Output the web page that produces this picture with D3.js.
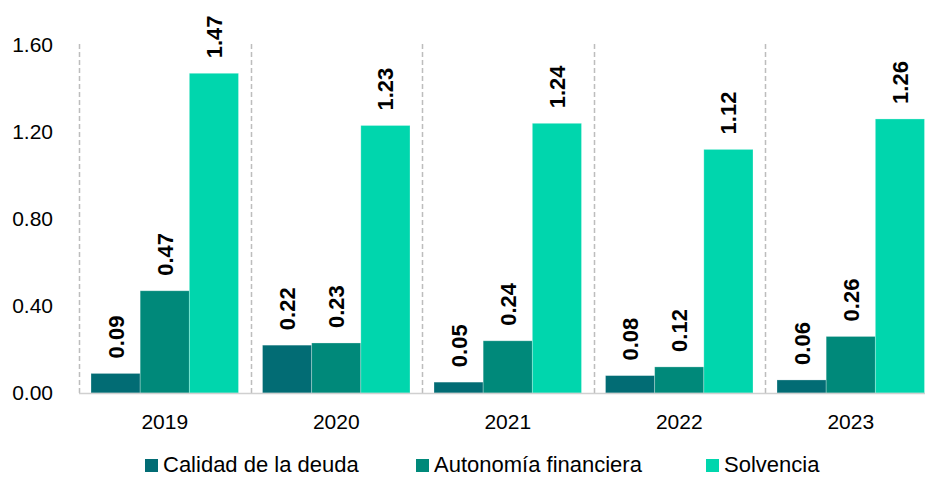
<!DOCTYPE html>
<html>
<head>
<meta charset="utf-8">
<script src="https://cdn.jsdelivr.net/npm/d3@7"></script>
<style>
  html, body { margin: 0; padding: 0; background: #fff; }
  svg { display: block; font-family: Arial, "Liberation Sans", sans-serif; }
</style>
</head>
<body>
<svg id="chart" width="925" height="477"></svg>
<script>
// Ratios per year
const years = ["2019", "2020", "2021", "2022", "2023"];
const seriesNames = ["Calidad de la deuda", "Autonomía financiera", "Solvencia"];
const calidad = [0.09, 0.22, 0.05, 0.08, 0.06];
const autonomia = [0.47, 0.23, 0.24, 0.12, 0.26];
const solvencia = [1.47, 1.23, 1.24, 1.12, 1.26];
const yTicks = [0, 0.4, 0.8, 1.2, 1.6];
const colors = ["#026c74", "#00897a", "#00d6ad"];

const seriesValues = [calidad, autonomia, solvencia];
const rows = years.map((yr, i) => ({
  year: yr,
  values: seriesNames.map((s, k) => ({ key: s, idx: k, value: seriesValues[k][i] }))
}));

const svg = d3.select("#chart");
const plotLeft = 79, plotRight = 936.5, plotTop = 45, plotBottom = 393;

const x0 = d3.scaleBand().domain(years).range([plotLeft, plotRight]).padding(0);
const x1 = d3.scaleBand().domain(seriesNames)
  .range([12, x0.bandwidth() - 12]).padding(0);
const y = d3.scaleLinear().domain([0, 1.6]).range([plotBottom, plotTop]);

// Dashed separators between year groups
svg.append("g")
  .selectAll("line")
  .data(years)
  .join("line")
  .attr("x1", d => Math.round(x0(d)) + 0.5)
  .attr("x2", d => Math.round(x0(d)) + 0.5)
  .attr("y1", plotTop - 1)
  .attr("y2", plotBottom)
  .attr("stroke", "#bdbdbd")
  .attr("stroke-width", 1.5)
  .attr("stroke-dasharray", "5,3");

// Y axis labels
const yAxis = d3.axisLeft(y).tickValues(yTicks).tickFormat(d3.format(".2f")).tickSize(0).tickPadding(0);
const gy = svg.append("g").attr("transform", `translate(53,0)`).call(yAxis);
gy.select(".domain").remove();
gy.selectAll("text")
  .attr("font-size", 21)
  .attr("font-family", "Arial, 'Liberation Sans', sans-serif")
  .attr("fill", "#000");

// Bars
const groups = svg.append("g")
  .selectAll("g")
  .data(rows)
  .join("g")
  .attr("transform", d => `translate(${x0(d.year)},0)`);

groups.selectAll("rect")
  .data(d => d.values)
  .join("rect")
  .attr("x", d => x1(d.key))
  .attr("width", x1.bandwidth())
  .attr("y", d => y(d.value))
  .attr("height", d => y(0) - y(d.value))
  .attr("fill", d => colors[d.idx])
  .attr("stroke", "#ffffff")
  .attr("stroke-opacity", 0.35)
  .attr("stroke-width", 0.8);

// Value labels, rotated above each bar
groups.selectAll("text.val")
  .data(d => d.values)
  .join("text")
  .attr("class", "val")
  .attr("transform", d => `translate(${x1(d.key) + x1.bandwidth() / 2 + 8},${y(d.value) - 15}) rotate(-90)`)
  .attr("text-anchor", "start")
  .attr("font-size", 22)
  .attr("font-weight", "bold")
  .attr("fill", "#000")
  .text(d => d3.format(".2f")(d.value));

// Baseline
svg.append("line")
  .attr("x1", plotLeft).attr("x2", 925)
  .attr("y1", y(0) + 0.5).attr("y2", y(0) + 0.5)
  .attr("stroke", "#d0d0d0")
  .attr("stroke-width", 1.5);

// Year labels
const xAxis = d3.axisBottom(x0).tickSize(0).tickPadding(0);
const gx = svg.append("g").attr("transform", `translate(0,${plotBottom + 29})`).call(xAxis);
gx.select(".domain").remove();
gx.selectAll("text")
  .attr("font-size", 21)
  .attr("font-family", "Arial, 'Liberation Sans', sans-serif")
  .attr("fill", "#000")
  .attr("dy", "0.35em");

// Legend
const legendX = [145, 416, 706];
const legend = svg.append("g")
  .selectAll("g")
  .data(seriesNames)
  .join("g")
  .attr("transform", (d, i) => `translate(${legendX[i]},472)`);
legend.append("rect")
  .attr("x", 0).attr("y", -13)
  .attr("width", 13).attr("height", 13)
  .attr("fill", (d, i) => colors[i]);
legend.append("text")
  .attr("x", 18)
  .attr("font-size", 22)
  .attr("fill", "#000")
  .text(d => d);
</script>
</body>
</html>
